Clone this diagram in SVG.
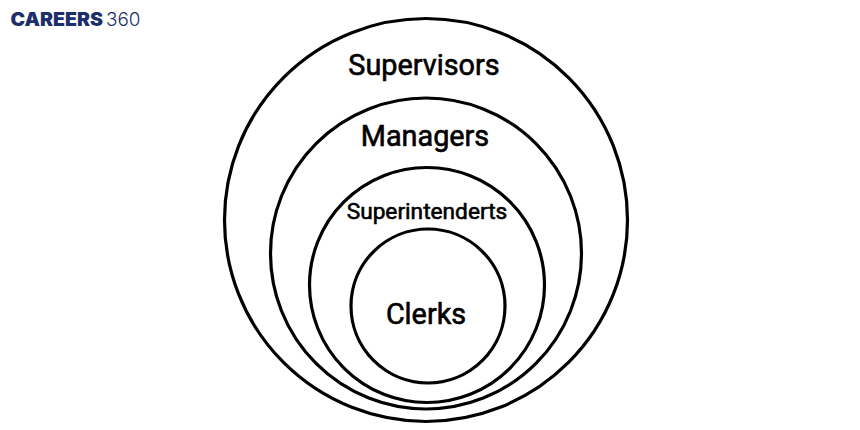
<svg xmlns="http://www.w3.org/2000/svg" width="860" height="430" viewBox="0 0 860 430">
<style>
.ring{fill:none;stroke:#000;stroke-width:3.2}
.lb{font-family:Roboto,"Liberation Sans",sans-serif;font-weight:400;fill:#000;stroke:#000;stroke-width:.6;text-anchor:middle}
.brand{font-family:Inter,"Liberation Sans",sans-serif;fill:#1d2f6b}
</style>
<rect width="860" height="430" fill="#fff"/>
<g id="logo"><text class="brand" x="10.500" y="26" font-size="18.500" font-weight="900" textLength="92.500" lengthAdjust="spacingAndGlyphs">CAREERS</text><text class="brand" x="106" y="26" font-size="18.500" font-weight="300" textLength="34.500" lengthAdjust="spacingAndGlyphs">360</text></g>
<g id="supervisors"><circle class="ring" cx="426" cy="220" r="201.500"/><text class="lb" x="424" y="75" font-size="28.800">Supervisors</text></g>
<g id="managers"><circle class="ring" cx="426" cy="253.500" r="155.500"/><text class="lb" x="425" y="146" font-size="28.800">Managers</text></g>
<g id="superintenderts"><circle class="ring" cx="427" cy="285" r="117.500"/><text class="lb" x="427" y="219" font-size="22.700">Superintenderts</text></g>
<g id="clerks"><circle class="ring" cx="428" cy="306" r="77"/><text class="lb" x="426" y="324" font-size="28.800">Clerks</text></g>
</svg>
